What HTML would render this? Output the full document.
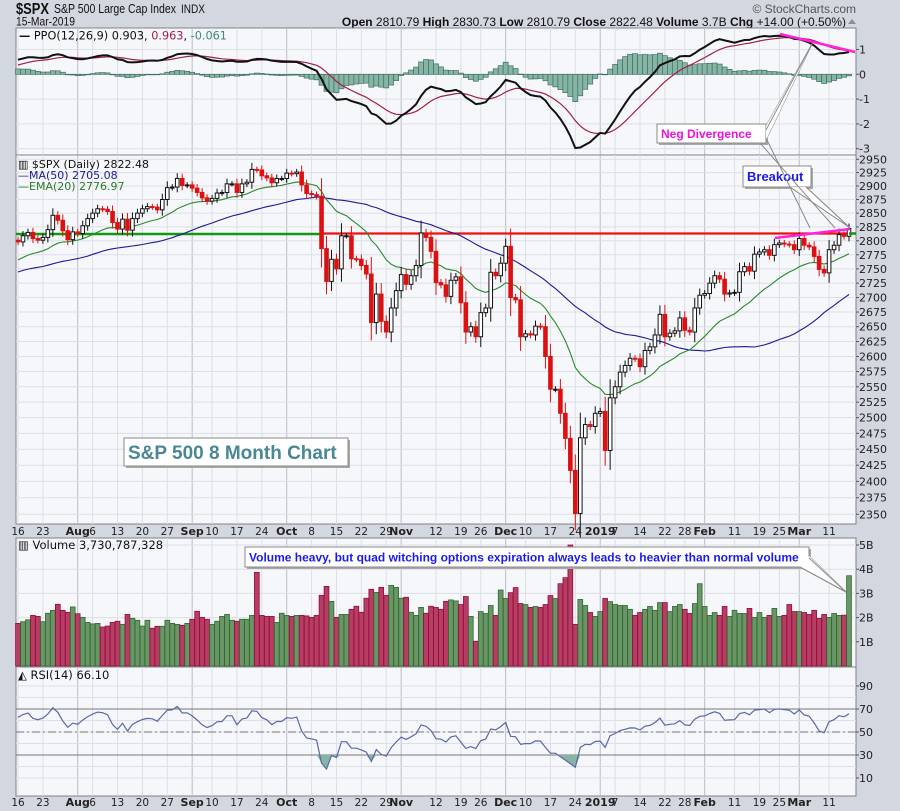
<!DOCTYPE html>
<html><head><meta charset="utf-8"><style>
html,body{margin:0;padding:0;background:#d3d7df;}
svg{display:block;font-family:"DejaVu Sans","Liberation Sans",sans-serif;}
</style></head><body>
<svg id="c" width="900" height="811" viewBox="0 0 900 811" xmlns="http://www.w3.org/2000/svg">
<rect x="0" y="0" width="900" height="811" fill="#d3d7df"/>
<g>
<text x="16" y="14" font-family="Liberation Sans, sans-serif" font-size="16" font-weight="bold" fill="#111" textLength="33" lengthAdjust="spacingAndGlyphs">$SPX</text>
<text x="54" y="13" font-family="Liberation Sans, sans-serif" font-size="13" fill="#111" textLength="122" lengthAdjust="spacingAndGlyphs">S&amp;P 500 Large Cap Index</text>
<text x="181" y="13" font-family="Liberation Sans, sans-serif" font-size="12" fill="#111" textLength="24" lengthAdjust="spacingAndGlyphs">INDX</text>
<text x="16" y="25.5" font-family="Liberation Sans, sans-serif" font-size="12" fill="#111" textLength="59" lengthAdjust="spacingAndGlyphs">15-Mar-2019</text>
<text x="856" y="13" text-anchor="end" font-family="Liberation Sans, sans-serif" font-size="12" fill="#555">© StockCharts.com</text>
<text x="846" y="26" text-anchor="end" font-family="Liberation Sans, sans-serif" font-size="12" fill="#111"><tspan font-weight="bold">Open</tspan> 2810.79  <tspan font-weight="bold">High</tspan> 2830.73  <tspan font-weight="bold">Low</tspan> 2810.79  <tspan font-weight="bold">Close</tspan> 2822.48  <tspan font-weight="bold">Volume</tspan> 3.7B  <tspan font-weight="bold">Chg</tspan> +14.00 (+0.50%)</text>
<path d="M848,24 l4,-5 l4,5 z" fill="#8a8e96"/>
</g>
<g id="panels"></g>
</svg>
<script>
const preCloses=[2655,2635,2630,2663,2672,2671,2672,2697,2723,2728,2730,2711,2722,2720,2713,2733,2725,2733,2721,2727,2689,2724,2705,2735,2747,2749,2772,2770,2779,2782,2787,2775,2782,2780,2773,2762,2765,2749,2755,2717,2723,2699,2716,2718,2726,2713,2736,2737,2760,2784,2794,2775,2798,2799,2801];
const closes=[2798,2809,2815,2804,2801,2806,2820,2846,2837,2818,2802,2816,
2813,2827,2840,2850,2858,2857,2853,2833,2821,2839,2819,2840,2850,2858,2862,2861,2856,2875,2897,2898,2914,2901,2902,
2896,2888,2878,2872,2877,2887,2888,2904,2904,2888,2904,2907,2931,2930,2919,2915,2906,2914,2914,
2924,2923,2926,2902,2886,2884,2881,2786,2728,2767,2750,2809,2809,2768,2767,2756,2741,2657,2706,2659,2641,2682,2712,
2740,2723,2738,2756,2814,2806,2781,2726,2722,2702,2730,2736,2691,2641,2650,2633,2674,2682,2744,2738,2760,
2790,2700,2696,2633,2638,2636,2651,2650,2600,2546,2546,2507,2467,2417,2351,2468,2489,2486,2507,
2510,2448,2532,2550,2574,2585,2597,2596,2583,2610,2616,2636,2671,2633,2639,2643,2665,2644,2641,2682,2704,
2707,2725,2738,2732,2706,2708,2709,2745,2754,2746,2776,2780,2784,2774,2793,2796,2794,2793,2784,
2804,2792,2789,2772,2749,2743,2784,2792,2811,2808,2822];
const volumes=[1.76,1.83,1.91,2.09,2.05,1.83,2.18,2.30,2.55,2.30,2.22,2.44,2.16,2.01,1.80,1.74,1.76,1.61,1.65,1.80,1.85,1.72,2.13,1.97,1.89,1.65,1.89,1.56,1.64,1.64,1.89,1.76,1.72,1.68,1.76,1.93,2.26,2.01,1.93,1.72,1.85,2.05,2.13,1.89,1.85,1.93,1.93,2.09,3.87,2.09,2.05,2.05,1.80,2.18,2.09,2.05,2.09,2.09,2.07,2.01,2.09,2.92,3.29,2.67,2.01,2.13,2.13,2.34,2.47,2.22,2.80,3.17,3.04,3.25,2.92,3.33,3.25,2.80,2.84,2.22,2.09,2.42,2.18,2.47,2.42,2.34,2.67,
2.73,2.69,2.54,2.87,2.05,1.02,2.25,2.17,2.50,2.09,3.14,2.79,3.03,3.24,2.58,2.54,2.42,2.46,2.42,2.54,2.91,2.79,3.40,3.65,5.00,1.72,2.75,2.50,2.21,2.05,2.25,2.79,2.66,2.54,2.50,2.50,2.34,2.09,2.21,2.34,2.46,2.30,2.62,2.62,2.25,2.46,2.54,2.34,2.17,2.58,3.40,2.46,2.09,2.21,2.09,2.46,2.05,2.30,2.17,2.17,2.38,2.01,2.21,2.01,2.09,2.38,2.05,2.09,2.54,2.25,2.25,2.21,2.13,2.30,1.97,2.13,2.01,2.17,2.09,2.10,3.73];
const tickDates=["2018-07-16","2018-07-23","2018-08-01","2018-08-06","2018-08-13","2018-08-20","2018-08-27","2018-09-04","2018-09-10","2018-09-17","2018-09-24","2018-10-01","2018-10-08","2018-10-15","2018-10-22","2018-10-29","2018-11-01","2018-11-12","2018-11-19","2018-11-26","2018-12-03","2018-12-10","2018-12-17","2018-12-24","2019-01-02","2019-01-07","2019-01-14","2019-01-22","2019-01-28","2019-02-01","2019-02-11","2019-02-19","2019-02-25","2019-03-01","2019-03-11"];
const tickLabels=["16","23","Aug","6","13","20","27","Sep","10","17","24","Oct","8","15","22","29","Nov","12","19","26","Dec","10","17","24","2019","7","14","22","28","Feb","11","19","25","Mar","11"];
const priceTicks=[2350,2375,2400,2425,2450,2475,2500,2525,2550,2575,2600,2625,2650,2675,2700,2725,2750,2775,2800,2825,2850,2875,2900,2925,2950];
const ppoTicks=[1,0,-1,-2,-3];
const volTicks=[1,2,3,4,5];
const rsiTicks=[10,30,50,70,90];
const resistanceLevel=2813;

const NS="http://www.w3.org/2000/svg";
const root=document.getElementById('panels');
function mk(tag,attrs,parent,txt){const e=document.createElementNS(NS,tag);for(const k in attrs)e.setAttribute(k,attrs[k]);if(txt!==undefined)e.textContent=txt;(parent||root).appendChild(e);return e;}

const holidays=["2018-09-03","2018-11-22","2018-12-05","2018-12-25","2019-01-01","2019-01-21","2019-02-18"];
const dates=[];
{let d=new Date(Date.UTC(2018,6,16));const end=new Date(Date.UTC(2019,2,15));
 while(d<=end){const wd=d.getUTCDay();const s=d.toISOString().slice(0,10);if(wd>0&&wd<6&&holidays.indexOf(s)<0)dates.push(s);d=new Date(d.getTime()+86400000);}}
const N=closes.length;
const L=16,R=856;
const X0=18,DX=(849-18)/(N-1);
const xAt=i=>X0+i*DX;

const P={ppo:[28,155],price:[155,524],vol:[538,667],rsi:[667,796]};
const yPrice=p=>159.3+(Math.log(2950)-Math.log(p))*1561;
const yPPO=v=>74.3-v*24.8;
const yVol=v=>666-v*24.2;
const yRSI=v=>732-(v-50)*1.15;

const all=preCloses.concat(closes);const off=preCloses.length;
function ema(arr,n){const out=[];const k=2/(n+1);let e=arr[0];for(let i=0;i<arr.length;i++){e=i===0?arr[0]:arr[i]*k+e*(1-k);out.push(e);}return out;}
const ema20=ema(all,20),ema12=ema(all,12),ema26=ema(all,26);
const sma50=all.map((v,i)=>{const s=Math.max(0,i-49);let t=0;for(let j=s;j<=i;j++)t+=all[j];return t/(i-s+1);});
const ppo=all.map((v,i)=>(ema12[i]-ema26[i])/ema26[i]*100);
const sig=ema(ppo,9);
const rsi=[];{let ag=0,al=0;for(let i=1;i<all.length;i++){const ch=all[i]-all[i-1];const g=Math.max(ch,0),l=Math.max(-ch,0);if(i<=14){ag+=g/14;al+=l/14;}else{ag=(ag*13+g)/14;al=(al*13+l)/14;}rsi[i]=al===0?100:100-100/(1+ag/al);}}

function panel(name,y0,y1){
  mk('rect',{x:L,y:y0,width:R-L,height:y1-y0,fill:'#f6f7fb',stroke:'#7d818a','stroke-width':1,});
}
function vgrid(y0,y1,name){
  const g=mk('g',{});
  tickDates.forEach((d,k)=>{const i=dates.indexOf(d);if(i<0)return;const x=xAt(i);const month=isNaN(+tickLabels[k])||tickLabels[k]==="2019";
    mk('line',{x1:x,x2:x,y1:y0,y2:y1,stroke:month?'#b9bdc6':'#dcdfe6','stroke-width':1},g);});
}
function hgrid(vals,fy,y0,y1,name){
  const g=mk('g',{});
  vals.forEach(v=>{const y=fy(v);if(y<y0||y>y1)return;mk('line',{x1:L,x2:R,y1:y,y2:y,stroke:'#dcdfe6','stroke-width':1},g);});
}
function rlabels(vals,fy,name,fmt){
  const g=mk('g',{});
  vals.forEach(v=>{const y=fy(v);mk('line',{x1:R,x2:R+3,y1:y,y2:y,stroke:'#555'},g);
    mk('text',{x:R+3,y:y+4,'font-size':11,fill:'#222'},g,fmt?fmt(v):String(v));});
}
function dateAxis(y,name){
  const g=mk('g',{});
  tickDates.forEach((d,k)=>{const i=dates.indexOf(d);if(i<0)return;const lab=tickLabels[k];const month=isNaN(+lab)||lab==="2019";
    mk('text',{x:xAt(i),y:y,'text-anchor':'middle','font-size':month?11:10.5,'font-weight':month?'bold':'normal',fill:'#222'},g,lab);});
}
function pathFrom(vals,fx,fy){let d='';vals.forEach((v,i)=>{d+=(i?'L':'M')+fx(i).toFixed(1)+','+fy(v).toFixed(1);});return d;}

// PPO
panel('ppo',P.ppo[0],P.ppo[1]);
vgrid(P.ppo[0],P.ppo[1],'ppo');
hgrid(ppoTicks,yPPO,P.ppo[0],P.ppo[1],'ppo');
{const g=mk('g',{});
 for(let i=0;i<N;i++){const h=ppo[i+off]-sig[i+off];const y=yPPO(Math.max(h,0)),y2=yPPO(Math.min(h,0));
  const r=mk('rect',{x:xAt(i)-2.5,y:y,width:5,height:Math.max(0.5,y2-y),fill:'#86b5a6',stroke:'#3f6f60','stroke-width':0.7},g);
  
  }}
mk('path',{d:pathFrom(sig.slice(off),xAt,yPPO),fill:'none',stroke:'#a0204a','stroke-width':1.2,});
mk('path',{d:pathFrom(ppo.slice(off),xAt,yPPO),fill:'none',stroke:'#111','stroke-width':2,});
rlabels(ppoTicks,yPPO,'ppo');
{const t=mk('text',{x:19,y:39.5,'font-size':11.5,fill:'#111',textLength:208,lengthAdjust:'spacingAndGlyphs',},null);
 t.innerHTML='<tspan font-weight="bold">—</tspan> PPO(12,26,9) 0.903, <tspan fill="#a0204a">0.963</tspan>, <tspan fill="#3a8a7a">-0.061</tspan>';}
mk('line',{x1:780,y1:34,x2:855,y2:52,stroke:'#ff22dd','stroke-width':2.5,});

// PRICE
panel('price',P.price[0],P.price[1]);
vgrid(P.price[0],P.price[1],'price');
hgrid(priceTicks,yPrice,P.price[0],P.price[1],'price');
mk('line',{x1:L,x2:322,y1:yPrice(resistanceLevel)+0.5,y2:yPrice(resistanceLevel)+0.5,stroke:'#119911','stroke-width':2.5,});
mk('line',{x1:322,x2:R,y1:yPrice(resistanceLevel),y2:yPrice(resistanceLevel),stroke:'#ee1111','stroke-width':2.2,});
mk('path',{d:pathFrom(sma50.slice(off),xAt,yPrice),fill:'none',stroke:'#1a1a99','stroke-width':1.1,});
mk('path',{d:pathFrom(ema20.slice(off),xAt,yPrice),fill:'none',stroke:'#2a8a2a','stroke-width':1.1,});
{const g=mk('g',{});
 for(let i=0;i<N;i++){const c=closes[i];const o=i?closes[i-1]:preCloses[preCloses.length-1];const up=c>=o;
  const ext=Math.abs(c-o)*0.3+5;const hi=Math.max(o,c)+ext,lo=Math.min(o,c)-ext;const x=xAt(i);
  const col=up?'#111':'#dd1111';
  const cg=mk('g',{},g);
  
  
  mk('line',{x1:x,x2:x,y1:yPrice(hi),y2:yPrice(lo),stroke:col,'stroke-width':1},cg);
  const yt=yPrice(Math.max(o,c)),yb=yPrice(Math.min(o,c));
  mk('rect',{x:x-1.8,y:yt,width:3.6,height:Math.max(1,yb-yt),fill:up?'#fff':'#dd1111',stroke:col,'stroke-width':1},cg);}}
mk('line',{x1:775,y1:238,x2:850,y2:229,stroke:'#ff22dd','stroke-width':2.5,});
mk('line',{x1:849,y1:yPrice(resistanceLevel),x2:856,y2:yPrice(resistanceLevel),stroke:'#119911','stroke-width':2.5,});
rlabels(priceTicks,yPrice,'price');
mk('text',{x:18,y:168,'font-size':11,fill:'#111',},null,'▥ $SPX (Daily) 2822.48');
mk('text',{x:18,y:179,'font-size':11,fill:'#1a1a99',},null,'—MA(50) 2705.08');
mk('text',{x:18,y:190,'font-size':11,fill:'#2a7a2a',},null,'—EMA(20) 2776.97');
dateAxis(535,'price-date-axis');

// VOLUME
panel('volume',P.vol[0],P.vol[1]);
vgrid(P.vol[0],P.vol[1],'volume');
hgrid(volTicks,yVol,P.vol[0],P.vol[1],'volume');
{const g=mk('g',{});
 for(let i=0;i<N&&i<volumes.length;i++){const o=i?closes[i-1]:preCloses[preCloses.length-1];const up=closes[i]>=o;
  const v=Math.min(volumes[i],5.05);const y=yVol(v);
  const r=mk('rect',{x:xAt(i)-2.4,y:y,width:4.8,height:666-y,fill:up?'#6a9566':'#b53e64',stroke:up?'#2f6a2f':'#9a0a3a','stroke-width':0.8},g);
  
  }}
rlabels(volTicks,yVol,'volume',v=>v+'B');
mk('text',{x:18,y:549,'font-size':11.5,fill:'#111',},null,'▥ Volume 3,730,787,328');

// RSI
panel('rsi',P.rsi[0],P.rsi[1]);
vgrid(P.rsi[0],P.rsi[1],'rsi');
hgrid([20,40,60,80].concat(rsiTicks),yRSI,P.rsi[0],P.rsi[1],'rsi');
mk('line',{x1:L,x2:R,y1:yRSI(70),y2:yRSI(70),stroke:'#777','stroke-width':1,});
mk('line',{x1:L,x2:R,y1:yRSI(30),y2:yRSI(30),stroke:'#777','stroke-width':1,});
mk('line',{x1:L,x2:R,y1:yRSI(50),y2:yRSI(50),stroke:'#777','stroke-width':1,'stroke-dasharray':'8,3,2,3',});
{const rv=rsi.slice(off);
 let d='M'+xAt(0)+','+yRSI(30);rv.forEach((v,i)=>{d+='L'+xAt(i).toFixed(1)+','+yRSI(Math.min(v,30)).toFixed(1);});d+='L'+xAt(N-1)+','+yRSI(30)+'Z';
 mk('path',{d:d,fill:'#86b5a6',});
 let d2='M'+xAt(0)+','+yRSI(70);rv.forEach((v,i)=>{d2+='L'+xAt(i).toFixed(1)+','+yRSI(Math.max(v,70)).toFixed(1);});d2+='L'+xAt(N-1)+','+yRSI(70)+'Z';
 mk('path',{d:d2,fill:'#86b5a6',});
 mk('path',{d:pathFrom(rv,xAt,yRSI),fill:'none',stroke:'#5a68a8','stroke-width':1.2,});}
rlabels(rsiTicks,yRSI,'rsi');
mk('text',{x:18,y:679,'font-size':11.5,fill:'#111',},null,'◭ RSI(14) 66.10');
dateAxis(806,'rsi-date-axis');

// ANNOTATIONS
function callout(name,x,y,w,h,text,color,size,pts){
  const g=mk('g',{});
  if(pts){mk('polygon',{points:pts,fill:'#f2f2f2',stroke:'#8a8a8a','stroke-width':1},g);}
  mk('rect',{x:x+2,y:y+2,width:w,height:h,fill:'#a8a8a8'},g);
  mk('rect',{x:x,y:y,width:w,height:h,fill:'#fff',stroke:'#8a8a8a','stroke-width':1},g);
  if(pts){mk('polygon',{points:pts,fill:'#fff',stroke:'none'},g);}
  mk('text',{x:x+4,y:y+h/2+size*0.36,'font-family':'Liberation Sans, sans-serif','font-size':size,'font-weight':'bold',fill:color},g,text);
}
callout('chart-title-box',124,438,224,28,'S&P 500 8 Month Chart','#4a8794',19,null);
callout('breakout-callout',743,166,68,21,'Breakout','#1a1aee',13,'790,187 806,187 849,227');
callout('neg-divergence-callout',657,124,109,19,'Neg Divergence','#ee11dd',12,'766,126 766,140 812,44');
mk('polyline',{points:'766,130 812,44',fill:'none',stroke:'#8a8a8a','stroke-width':1,});
mk('polyline',{points:'766,138 810,228',fill:'none',stroke:'#8a8a8a','stroke-width':1,});
mk('polyline',{points:'760,143 835,228',fill:'none',stroke:'#8a8a8a','stroke-width':1,});
mk('polyline',{points:'790,187 849,227 806,187',fill:'none',stroke:'#8a8a8a','stroke-width':1,});
callout('volume-note-callout',245,547,564,20,'Volume heavy, but quad witching options expiration always leads to heavier than normal volume','#1a1aee',12,'800,567 809,556 846,592');
mk('polyline',{points:'800,567 846,592 809,558',fill:'none',stroke:'#8a8a8a','stroke-width':1,});
</script>
</body></html>
